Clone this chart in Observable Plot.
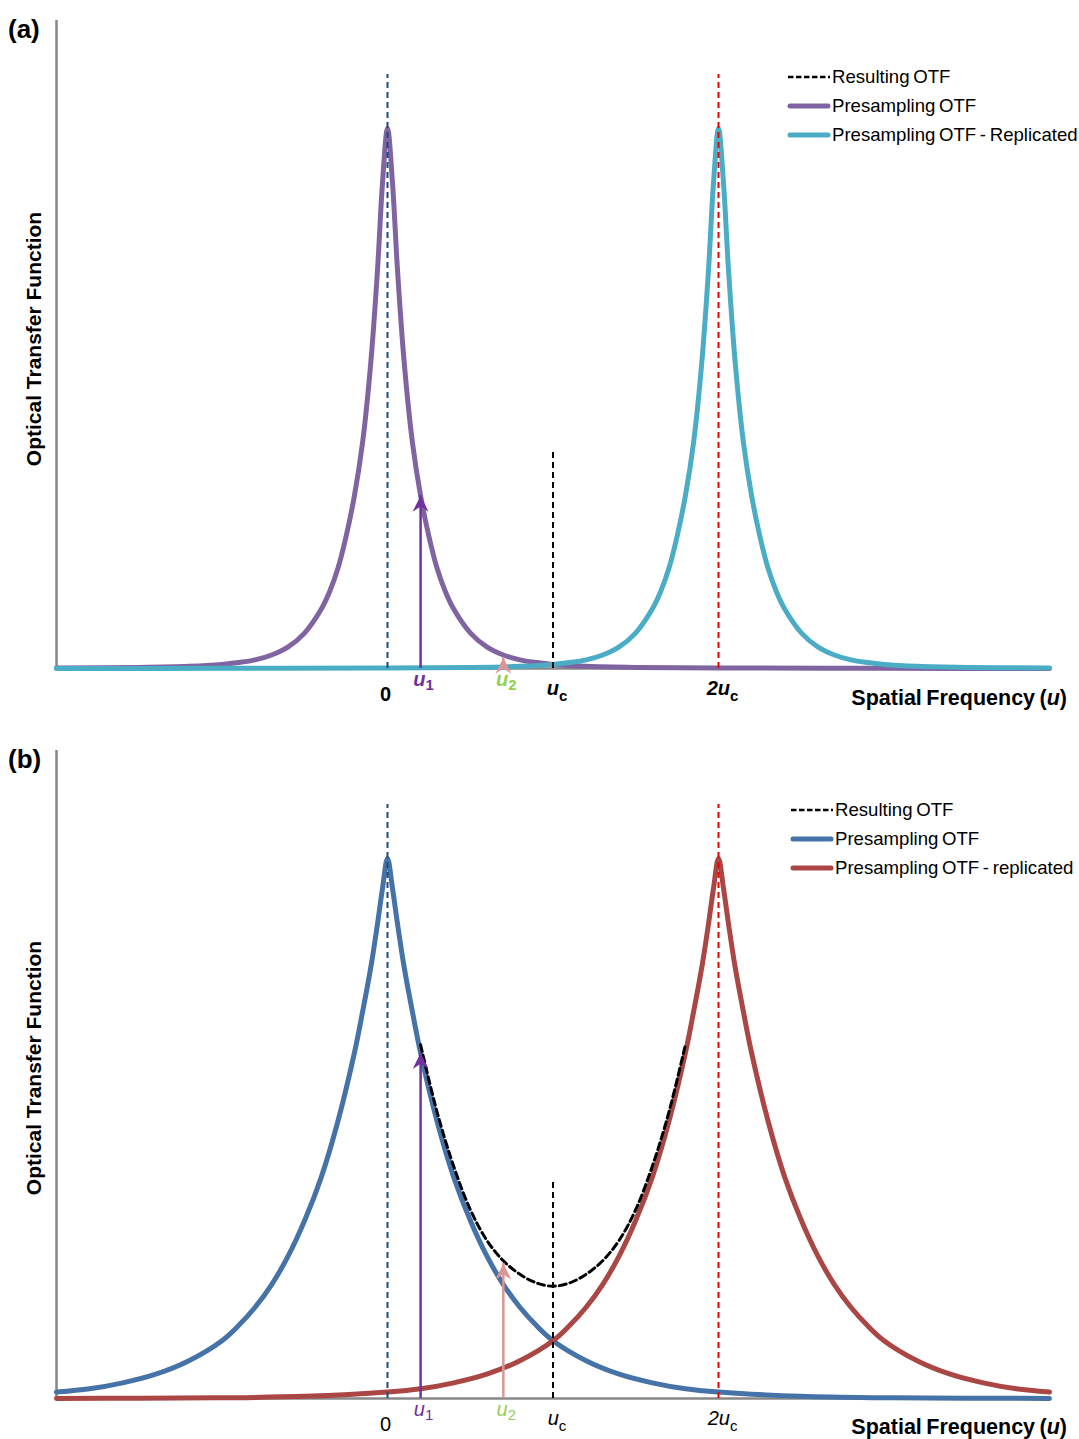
<!DOCTYPE html>
<html><head><meta charset="utf-8">
<script src="https://cdn.jsdelivr.net/npm/d3@7"></script>
<script src="https://cdn.jsdelivr.net/npm/@observablehq/plot@0.6"></script>
<style>
body{margin:0;background:#fff;font-family:Arial,"Liberation Sans",sans-serif;color:#000;}
#page{position:relative;width:1079px;height:1439px;overflow:hidden;background:#fff;}
.panel{position:absolute;left:0;width:1079px;}
.tag{position:absolute;font-weight:bold;font-size:26px;line-height:26px;}
.ytitle{position:absolute;font-weight:bold;font-size:21px;line-height:21px;transform:translate(-50%,-50%) rotate(-90deg);white-space:nowrap;}
.xtitle{position:absolute;font-weight:bold;font-size:21.5px;line-height:21px;white-space:nowrap;word-spacing:-1.5px;}
.legend{position:absolute;font-size:18.6px;word-spacing:-1.5px;}
.legend .row{display:flex;align-items:center;height:29px;}
.legend svg{display:block;margin-right:1px;}
</style></head><body><div id="page"></div>
<script>
// ---------- data ----------
const xDomain = [-2, 4];
const yDomain = [0, 1.2];

// panel (a)
const uPresA = [-2,-1.5,-1.2,-1,-0.9,-0.8,-0.7,-0.6,-0.5,-0.4,-0.35,-0.3,-0.25,-0.2,-0.15,-0.1,-0.06,-0.03,0,0.03,0.06,0.1,0.15,0.2,0.25,0.3,0.35,0.4,0.5,0.6,0.7,0.8,0.9,1,1.2,1.5,2,3,4];
const vPresA = [0.001,0.002,0.004,0.0075,0.011,0.016,0.025,0.040,0.066,0.11,0.142,0.185,0.245,0.32,0.42,0.57,0.74,0.9,1,0.9,0.74,0.57,0.42,0.32,0.245,0.185,0.142,0.11,0.066,0.040,0.025,0.016,0.011,0.0075,0.004,0.002,0.001,0.0003,0.0001];
const uReplA = [-2,-1,0,0.5,0.8,1,1.1,1.2,1.3,1.4,1.5,1.6,1.65,1.7,1.75,1.8,1.85,1.9,1.94,1.97,2,2.03,2.06,2.1,2.15,2.2,2.25,2.3,2.35,2.4,2.5,2.6,2.7,2.8,2.9,3,3.2,3.5,4];
const vReplA = [0.0001,0.0003,0.001,0.002,0.004,0.0075,0.011,0.016,0.025,0.040,0.066,0.11,0.142,0.185,0.245,0.32,0.42,0.57,0.74,0.9,1,0.9,0.74,0.57,0.42,0.32,0.245,0.185,0.142,0.11,0.066,0.040,0.025,0.016,0.011,0.0075,0.004,0.002,0.001];

// panel (b)
const uPresB = [-2,-1.8,-1.6,-1.4,-1.2,-1,-0.9,-0.8,-0.7,-0.6,-0.5,-0.4,-0.3,-0.2,-0.15,-0.1,-0.06,-0.03,0,0.03,0.06,0.1,0.15,0.2,0.3,0.4,0.5,0.6,0.7,0.8,0.9,1,1.2,1.4,1.6,1.8,2,2.5,3,3.5,4];
const vPresB = [0.012,0.018,0.029,0.045,0.07,0.107,0.135,0.169,0.211,0.264,0.33,0.41,0.513,0.64,0.717,0.80,0.88,0.945,1,0.945,0.88,0.80,0.717,0.64,0.513,0.41,0.33,0.264,0.211,0.169,0.135,0.107,0.07,0.045,0.029,0.018,0.012,0.004,0.0013,0.0005,0.0002];
const uReplB = [-2,-1.5,-1,-0.5,0,0.2,0.4,0.6,0.8,1,1.1,1.2,1.3,1.4,1.5,1.6,1.7,1.8,1.85,1.9,1.94,1.97,2,2.03,2.06,2.1,2.15,2.2,2.3,2.4,2.5,2.6,2.7,2.8,2.9,3,3.2,3.4,3.6,3.8,4];
const vReplB = [0.0002,0.0005,0.0013,0.004,0.012,0.018,0.029,0.045,0.07,0.107,0.135,0.169,0.211,0.264,0.33,0.41,0.513,0.64,0.717,0.80,0.88,0.945,1,0.945,0.88,0.80,0.717,0.64,0.513,0.41,0.33,0.264,0.211,0.169,0.135,0.107,0.07,0.045,0.029,0.018,0.012];
const uResB = [0.2,0.3,0.4,0.5,0.6,0.7,0.8,0.9,1,1.1,1.2,1.3,1.4,1.5,1.6,1.7,1.8];
const vResB = [0.655,0.53,0.43,0.35,0.293,0.255,0.23,0.214,0.208,0.214,0.23,0.255,0.293,0.35,0.43,0.53,0.655];

// guides, probes, tick labels
const guideU = [0, 1, 2];
const guideTop = [1.1, 0.4, 1.1];
const probeU = [0.2, 0.7];
const probeTopA = [0.32, 0.02];
const probeTopB = [0.64, 0.25];
const zeroTickU = [0];
const zeroTickText = ["0"];
const cutTickU = [1, 2];
const cutTickText = ["u_c", "2u_c"];
const probeTickText = ["u_1", "u_2"];
const legendTextA = ["Resulting OTF", "Presampling OTF", "Presampling OTF - Replicated"];
const legendTextB = ["Resulting OTF", "Presampling OTF", "Presampling OTF - replicated"];

// ---------- styles ----------
const guideColors = ["#1f497d", "#000000", "#ee0000"];
const probeArrowColors = ["#7030a0", "#d99694"];
const probeLabelColors = ["#7030a0", "#92d050"];
const colA = ["#8064a2", "#4bacc6"];
const colB = ["#4572a7", "#aa4643"];

const stealth = {
  draw(ctx, size) {
    const s = Math.sqrt(size / Math.PI);
    const L = s, w = 0.5 * s;
    ctx.moveTo(0, 0); ctx.lineTo(w, L); ctx.lineTo(0, 0.68 * L); ctx.lineTo(-w, L); ctx.closePath();
  }
};

const rows = (us, vs) => us.map((u, i) => ({u, v: vs[i]}));

function makePanel(cfg) {
  const guides = guideU.map((u, i) => ({u, top: guideTop[i], color: guideColors[i]}));
  const probes = probeU.map((u, i) => ({u, top: cfg.probeTop[i], color: probeArrowColors[i]}));
  const zeroT = zeroTickU.map((u, i) => ({u, label: zeroTickText[i]}));
  const cutT = cutTickU.map((u, i) => ({u, label: cutTickText[i]}));
  const probeT = probeU.map((u, i) => ({u, label: probeTickText[i], color: probeLabelColors[i]}));
  const fw = cfg.bold ? "bold" : "normal";
  const marks = [
    Plot.ruleY([0], {stroke: "#878787", strokeWidth: 2.5}),
    Plot.ruleX([xDomain[0]], {stroke: "#878787", strokeWidth: 2.5})
  ];
  cfg.series.forEach(s => marks.push(Plot.line(rows(s.u, s.v), {x: "u", y: "v", stroke: s.color, strokeWidth: 5, curve: "catmull-rom"})));
  if (cfg.resulting) marks.push(Plot.line(rows(cfg.resulting.u, cfg.resulting.v), {x: "u", y: "v", stroke: "#000", strokeWidth: 3, strokeDasharray: "7,4", curve: "catmull-rom"}));
  marks.push(
    Plot.ruleX(guides, {x: "u", y1: 0, y2: "top", stroke: "color", strokeWidth: 2, strokeDasharray: "6,4"}),
    Plot.ruleX(probes, {x: "u", y1: 0, y2: "top", stroke: "color", strokeWidth: 2.5}),
    Plot.dot(probes, {x: "u", y: "top", symbol: stealth, r: 16, fill: "color", stroke: null}),
    Plot.text(zeroT, {x: "u", y: 0, text: "label", dy: 26, dx: -2, fontSize: 20, fill: "#000", fontWeight: fw}),
    Plot.text(cutT, {x: "u", y: 0, text: "label", dy: 20, dx: 4, fontSize: 20, fill: "#000", fontWeight: fw}),
    Plot.text(probeT, {x: "u", y: 0, text: "label", dy: 11, dx: 3, fontSize: 20, fill: "color", fontWeight: fw})
  );
  const svg = Plot.plot({
    width: 1079, height: cfg.height,
    marginLeft: 56, marginRight: 30, marginTop: 20, marginBottom: cfg.marginBottom,
    x: {domain: xDomain, axis: null},
    y: {domain: yDomain, axis: null},
    color: {type: "identity"},
    style: {background: "transparent", overflow: "visible", fontFamily: "Arial, 'Liberation Sans', sans-serif"},
    marks
  });
  const ns = "http://www.w3.org/2000/svg";
  svg.querySelectorAll("text").forEach(t => {
    const s = t.textContent;
    if (!s.includes("_")) return;
    const [main, sub] = s.split("_");
    t.textContent = "";
    const a = document.createElementNS(ns, "tspan");
    a.textContent = main; a.setAttribute("font-style", "italic");
    const b = document.createElementNS(ns, "tspan");
    b.textContent = sub; b.setAttribute("font-size", "15"); b.setAttribute("dy", sub === "c" ? "6" : "4");
    t.appendChild(a); t.appendChild(b);
  });
  return svg;
}

function legend(texts, colors, left, top) {
  const div = document.createElement("div");
  div.className = "legend";
  div.style.left = left + "px"; div.style.top = top + "px";
  texts.forEach((txt, i) => {
    const row = document.createElement("div"); row.className = "row";
    const dashed = i === 0;
    const c = dashed ? "#000" : colors[i - 1];
    row.innerHTML = `<svg width="44" height="10"><line x1="${dashed ? 1 : 3}" y1="5" x2="${dashed ? 43 : 41}" y2="5" stroke="${c}" stroke-width="${dashed ? 2.6 : 5}" ${dashed ? 'stroke-dasharray="5.5,2.5"' : 'stroke-linecap="round"'}/></svg><span>${txt}</span>`;
    div.appendChild(row);
  });
  return div;
}

function addDiv(cls, html, style) {
  const d = document.createElement("div"); d.className = cls; d.innerHTML = html;
  Object.assign(d.style, style); page.appendChild(d); return d;
}

const page = document.getElementById("page");

// panel (a)
const pa = document.createElement("div"); pa.className = "panel"; pa.style.top = "0px";
pa.appendChild(makePanel({
  height: 720, marginBottom: 52, bold: true, probeTop: probeTopA,
  series: [{u: uPresA, v: vPresA, color: colA[0]}, {u: uReplA, v: vReplA, color: colA[1]}]
}));
page.appendChild(pa);

// panel (b)
const pb = document.createElement("div"); pb.className = "panel"; pb.style.top = "730px";
pb.appendChild(makePanel({
  height: 709, marginBottom: 41, bold: false, probeTop: probeTopB,
  series: [{u: uPresB, v: vPresB, color: colB[0]}, {u: uReplB, v: vReplB, color: colB[1]}],
  resulting: {u: uResB, v: vResB}
}));
page.appendChild(pb);

// titles and legends
addDiv("tag", "(a)", {left: "8px", top: "16px"});
addDiv("tag", "(b)", {left: "8px", top: "746px"});
addDiv("ytitle", "Optical Transfer Function", {left: "33px", top: "339px"});
addDiv("ytitle", "Optical Transfer Function", {left: "33px", top: "1068px"});
addDiv("xtitle", "Spatial Frequency (<i>u</i>)", {right: "12px", top: "688px"});
addDiv("xtitle", "Spatial Frequency (<i>u</i>)", {right: "12px", top: "1417px"});
page.appendChild(legend(legendTextA, colA, 787, 62));
page.appendChild(legend(legendTextB, colB, 790, 795));
</script>
</body></html>
